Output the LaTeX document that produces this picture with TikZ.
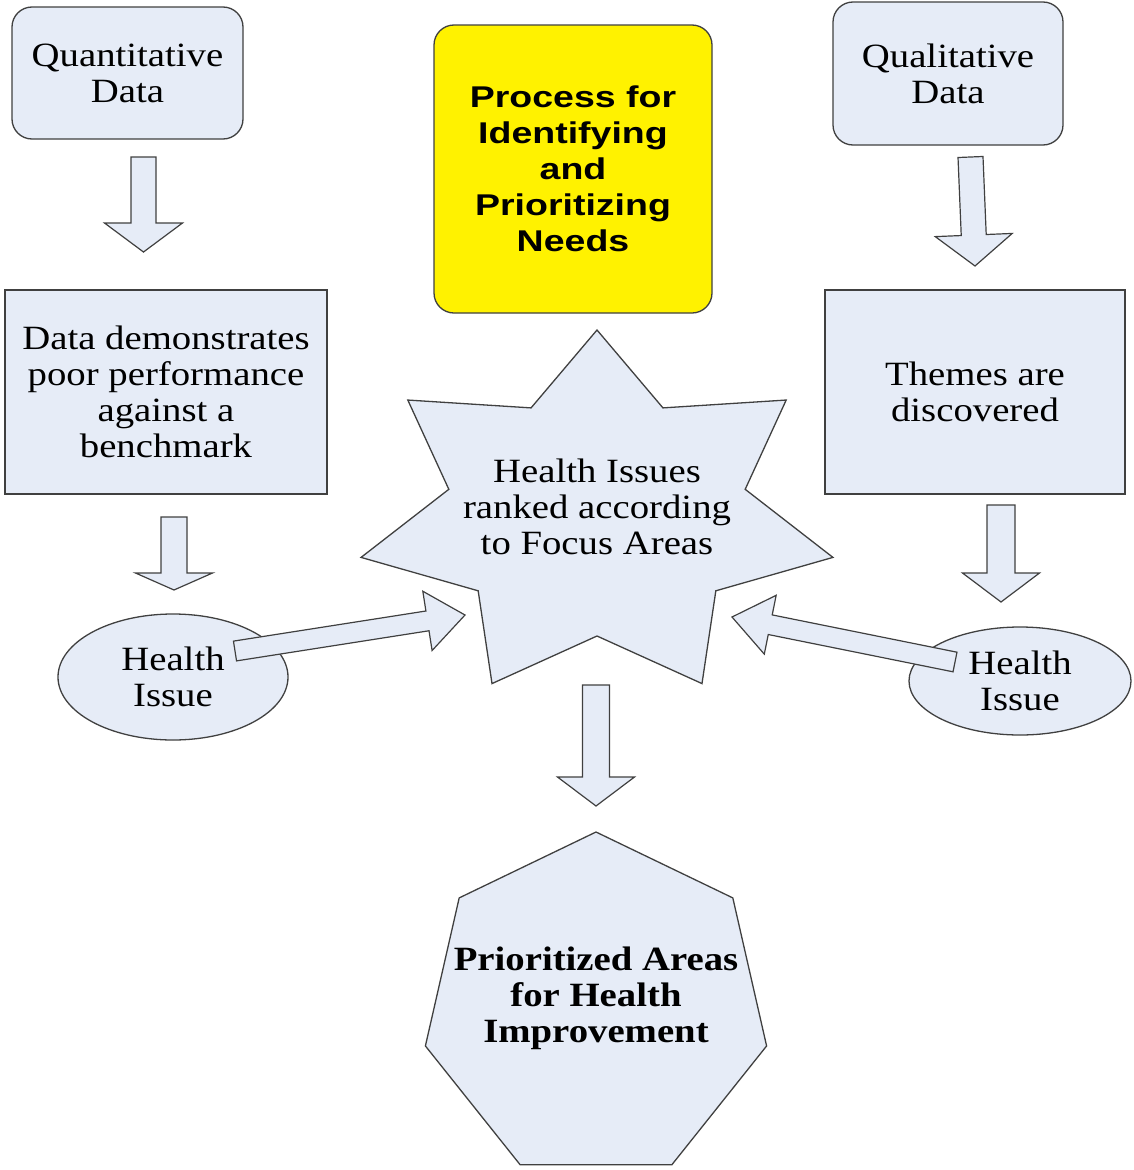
\documentclass[tikz,border=0pt]{standalone}
\usepackage{fontspec}
\setmainfont{Liberation Serif}[FakeStretch=1.14]
\newfontfamily\headfont{Liberation Sans}[FakeStretch=1.25]
\usetikzlibrary{calc,shapes.geometric}
\definecolor{boxblue}{RGB}{230,236,247}
\definecolor{edgegray}{RGB}{64,64,64}

% fat outlined arrow: from, to, shaft half width, head half width, head length
\newcommand{\fatarrow}[5]{%
  \coordinate (fa-h) at ($(#2)!#5!(#1)$);
  \draw[blockarrow] ($(#1)!#3!90:(#2)$) -- ($(fa-h)!#3!-90:(#1)$) -- ($(fa-h)!#4!-90:(#1)$)
    -- (#2) -- ($(fa-h)!#4!90:(#1)$) -- ($(fa-h)!#3!90:(#1)$) -- ($(#1)!#3!-90:(#2)$) -- cycle;
}

\begin{document}
\begin{tikzpicture}[x=1pt, y=-1pt,
  txt/.style={font=\fontsize{34}{36}\selectfont, align=center},
  plate/.style={draw=edgegray, fill=boxblue, line width=1.3pt},
  box/.style={plate, inner sep=0pt, txt},
  rbox/.style={box, rectangle, rounded corners=20pt},
  blockarrow/.style={plate, line width=1.2pt, line join=miter}]
  \useasboundingbox (0,0) rectangle (1133,1170);

  \node[rbox, minimum width=231pt, minimum height=132pt] (quant) at (127.5,73) {Quantitative\\Data};
  \node[rbox, minimum width=230pt, minimum height=143pt] (qual) at (948,73.5) {Qualitative\\Data};
  \node[rbox, fill=yellow, minimum width=278pt, minimum height=288pt,
        font=\headfont\bfseries\fontsize{30}{36}\selectfont] (proc) at (573,169) {Process for\\Identifying\\and\\Prioritizing\\Needs};
  \node[box, minimum width=322pt, minimum height=204pt] (bench) at (166,392) {Data demonstrates\\poor performance\\against a\\benchmark};
  \node[box, minimum width=300pt, minimum height=204pt] (themes) at (975,392) {Themes are\\discovered};
  \node[box, ellipse, minimum width=230pt, minimum height=126pt] (issueL) at (173,677) {Health\\Issue};
  \node[box, ellipse, minimum width=222pt, minimum height=108pt] (issueR) at (1020,681) {Health\\Issue};

  % seven point star
  \draw[plate] (597,330) \foreach \i in {1,...,13}{
      -- ({597+ifthenelse(mod(\i,2)==0,242,152)*cos(90+\i*180/7)},{516-ifthenelse(mod(\i,2)==0,186,120)*sin(90+\i*180/7)}) } -- cycle;
  \node[txt] (rank) at (597,507) {Health Issues\\ranked according\\to Focus Areas};

  \node[plate, regular polygon, regular polygon sides=7, minimum size=350pt, inner sep=0pt] (impr) at (596,1007) {};
  \node[txt, font=\bfseries\fontsize{34}{36}\selectfont] (imprtext) at (596,998) {Prioritized Areas\\for Health\\Improvement};

  \coordinate (a1s) at (143.5,157);  \coordinate (a1e) at (143.5,252);
  \coordinate (a2s) at (970.5,157);  \coordinate (a2e) at (975,266);
  \coordinate (a3s) at (174,517);    \coordinate (a3e) at (174,590);
  \coordinate (a4s) at (1001,505);   \coordinate (a4e) at (1001,602);
  \coordinate (a5s) at (596,685);    \coordinate (a5e) at (596,806);
  \coordinate (a6s) at (235,651);    \coordinate (a6e) at (465,615);
  \coordinate (a7s) at (955,662);    \coordinate (a7e) at (732,617);

  \fatarrow{a1s}{a1e}{12.5pt}{39pt}{29pt}
  \fatarrow{a2s}{a2e}{12.5pt}{38.5pt}{31pt}
  \fatarrow{a3s}{a3e}{13pt}{38.5pt}{17pt}
  \fatarrow{a4s}{a4e}{14pt}{38.5pt}{29pt}
  \fatarrow{a5s}{a5e}{13.5pt}{38.5pt}{29pt}
  \fatarrow{a6s}{a6e}{10pt}{30pt}{38pt}
  \fatarrow{a7s}{a7e}{10pt}{30pt}{39pt}
\end{tikzpicture}
\end{document}
